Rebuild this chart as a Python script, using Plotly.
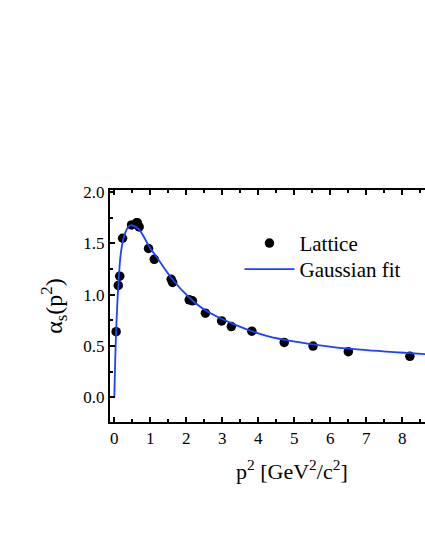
import plotly.graph_objects as go

# Lattice data points
lat_x = [0.05, 0.11, 0.15, 0.23, 0.48, 0.62, 0.64, 0.69, 0.95, 1.11, 1.58, 1.62, 2.08, 2.17, 2.53, 2.98, 3.25, 3.82, 4.72, 5.52, 6.50, 8.21]
lat_y = [0.64, 1.09, 1.18, 1.55, 1.68, 1.70, 1.70, 1.66, 1.45, 1.345, 1.15, 1.12, 0.95, 0.94, 0.82, 0.745, 0.69, 0.645, 0.535, 0.50, 0.445, 0.40]

# Gaussian fit curve
fit_x = [0.0, 0.05, 0.11, 0.19, 0.30, 0.44, 0.67, 1.00, 1.13, 1.59, 2.06, 2.52, 3.31, 4.23, 5.16, 6.08, 7.01, 7.94, 8.70]
fit_y = [0.0, 0.64, 1.08, 1.43, 1.60, 1.675, 1.64, 1.45, 1.39, 1.16, 0.98, 0.85, 0.713, 0.60, 0.535, 0.49, 0.46, 0.437, 0.42]

x_ticks = [0, 1, 2, 3, 4, 5, 6, 7, 8]
y_ticks = [0.0, 0.5, 1.0, 1.5, 2.0]

FONT = "Liberation Serif"

fig = go.Figure()
fig.add_trace(go.Scatter(
    x=lat_x, y=lat_y, mode="markers", name="Lattice", legend="legend",
    marker=dict(color="black", size=9.5, line=dict(width=0)),
))
fig.add_trace(go.Scatter(
    x=fit_x, y=fit_y, mode="lines", name="Gaussian fit", legend="legend2",
    line=dict(color="#1f40ff", width=1.8, shape="spline", smoothing=1.0),
))

legend_common = dict(
    xanchor="left", yanchor="top",
    bgcolor="rgba(0,0,0,0)", borderwidth=0,
    font=dict(family=FONT, size=21, color="black"),
    itemwidth=50,
)

fig.update_layout(
    width=425, height=550,
    margin=dict(l=110, r=0, t=190, b=128),
    paper_bgcolor="white", plot_bgcolor="white",
    font=dict(family=FONT, color="black", size=17),
    showlegend=True,
    legend=dict(x=0.411, y=0.858, **legend_common),
    legend2=dict(x=0.411, y=0.746, **legend_common),
    xaxis=dict(
        range=[-0.12, 8.63],
        tickvals=x_ticks, ticktext=[str(v) for v in x_ticks],
        ticks="inside", ticklen=5, tickwidth=1.5, tickcolor="black",
        minor=dict(dtick=0.5, tick0=0, ticks="inside", ticklen=3, tickwidth=1.5, tickcolor="black"),
        showline=True, linecolor="black", linewidth=2, mirror="ticks",
        showgrid=False, zeroline=False,
        tickfont=dict(family=FONT, size=17),
    ),
    yaxis=dict(
        range=[-0.24, 2.02],
        tickvals=y_ticks, ticktext=["%.1f" % v for v in y_ticks],
        ticks="inside", ticklen=5, tickwidth=1.5, tickcolor="black",
        minor=dict(dtick=0.25, tick0=0, ticks="inside", ticklen=3, tickwidth=1.5, tickcolor="black"),
        showline=True, linecolor="black", linewidth=2, mirror=False,
        showgrid=False, zeroline=False,
        tickfont=dict(family=FONT, size=17),
        title=dict(text="α<sub>s</sub>(p<sup>2</sup>)", font=dict(family=FONT, size=24), standoff=14),
    ),
)

fig.add_annotation(
    text="p<sup>2</sup> [GeV<sup>2</sup>/c<sup>2</sup>]",
    xref="paper", yref="paper", x=0.578, y=-0.205,
    xanchor="center", yanchor="middle", showarrow=False,
    font=dict(family=FONT, size=22, color="black"),
)

fig.write_html(
    "out.html",
    config={"displayModeBar": False},
    post_script="document.body.style.margin='0';document.body.style.overflow='hidden';",
)
